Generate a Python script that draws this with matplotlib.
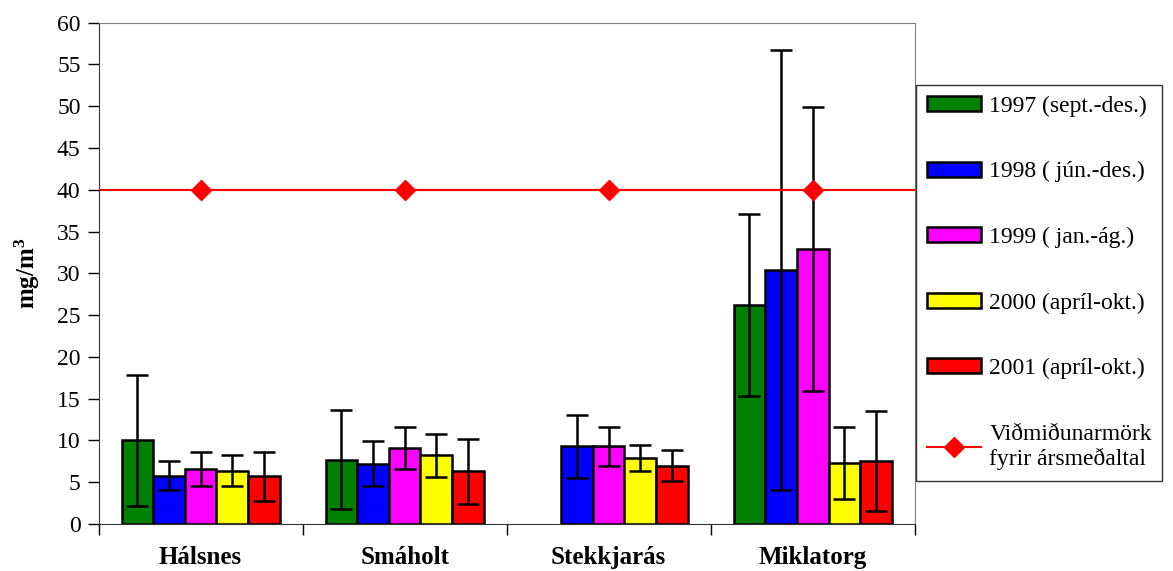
import matplotlib.pyplot as plt
import numpy as np
from matplotlib.ticker import FixedLocator

plt.rcParams["font.family"] = ["Liberation Serif", "DejaVu Serif"]
plt.rcParams["mathtext.fontset"] = "custom"
plt.rcParams["mathtext.rm"] = "Liberation Serif"
plt.rcParams["mathtext.bf"] = "Liberation Serif:bold"

# Stations and measurement periods
stations = ["Hálsnes", "Smáholt", "Stekkjarás", "Miklatorg"]
periods = [
    "1997 (sept.-des.)",
    "1998 ( jún.-des.)",
    "1999 ( jan.-ág.)",
    "2000 (apríl-okt.)",
    "2001 (apríl-okt.)",
]
colors = ["#008000", "#0000FF", "#FF00FF", "#FFFF00", "#FF0000"]

# Mean concentration per period, one list per station order
mean_1997 = [10.0, 7.7, np.nan, 26.2]
mean_1998 = [5.8, 7.2, 9.3, 30.4]
mean_1999 = [6.6, 9.1, 9.3, 32.9]
mean_2000 = [6.4, 8.2, 7.9, 7.3]
mean_2001 = [5.7, 6.3, 7.0, 7.5]

# Standard deviation (error bars)
sd_1997 = [7.8, 5.95, np.nan, 10.9]
sd_1998 = [1.7, 2.7, 3.8, 26.3]
sd_1999 = [2.0, 2.5, 2.3, 17.0]
sd_2000 = [1.85, 2.6, 1.5, 4.3]
sd_2001 = [2.9, 3.9, 1.85, 6.0]

limit_value = 40
limit_label = "Viðmiðunarmörk\nfyrir ársmeðaltal"

means = [mean_1997, mean_1998, mean_1999, mean_2000, mean_2001]
sds = [sd_1997, sd_1998, sd_1999, sd_2000, sd_2001]

fig = plt.figure(figsize=(11.73, 5.71), dpi=100)
ax = fig.add_axes([0.0841, 0.0823, 0.6957, 0.8779])

x = np.arange(len(stations))
width = 0.155
n = len(periods)
for i, (vals, err) in enumerate(zip(means, sds)):
    pos = x + (i - (n - 1) / 2) * width
    ax.bar(
        pos,
        vals,
        width,
        color=colors[i],
        edgecolor="black",
        linewidth=1.8,
        label=periods[i],
        zorder=2,
    )
    ax.errorbar(
        pos,
        vals,
        yerr=err,
        fmt="none",
        ecolor="black",
        elinewidth=1.8,
        capsize=8,
        capthick=1.8,
        zorder=3,
    )

ax.axhline(limit_value, color="#FF0000", linewidth=1.5, zorder=4)
ax.plot(
    x,
    [limit_value] * len(stations),
    color="#FF0000",
    linewidth=1.5,
    marker="D",
    markersize=10,
    label=limit_label,
    zorder=4,
)

ax.set_xlim(-0.5, len(stations) - 0.5)
ax.set_ylim(0, 60)
ax.set_yticks(np.arange(0, 61, 5))
ax.tick_params(axis="y", direction="out", length=8, width=1, labelsize=17, pad=5)

ax.set_xticks(x)
ax.set_xticklabels(stations, fontsize=18, fontweight="bold")
ax.tick_params(axis="x", which="major", length=0, pad=16)
ax.xaxis.set_minor_locator(FixedLocator(np.arange(-0.5, len(stations), 1.0)))
ax.tick_params(axis="x", which="minor", direction="out", length=8, width=1)

ax.set_ylabel(r"$\mathbf{mg/m^3}$", fontsize=18, labelpad=11)

for side in ["top", "right"]:
    ax.spines[side].set_color("#808080")
for side in ["left", "bottom"]:
    ax.spines[side].set_color("#333333")

# bars first, then the limit line
handles, labels = ax.get_legend_handles_labels()
order = list(range(1, len(handles))) + [0]
handles = [handles[k] for k in order]
labels = [labels[k] for k in order]
leg = fig.legend(
    handles,
    labels,
    loc="upper left",
    bbox_to_anchor=(0.781, 0.851),
    fontsize=17,
    frameon=True,
    fancybox=False,
    edgecolor="black",
    handlelength=2.3,
    handleheight=0.6,
    handletextpad=0.35,
    labelspacing=1.88,
    borderpad=0.45,
    borderaxespad=0,
)
leg.get_frame().set_linewidth(1.0)

fig.savefig("out.png", dpi=100)
